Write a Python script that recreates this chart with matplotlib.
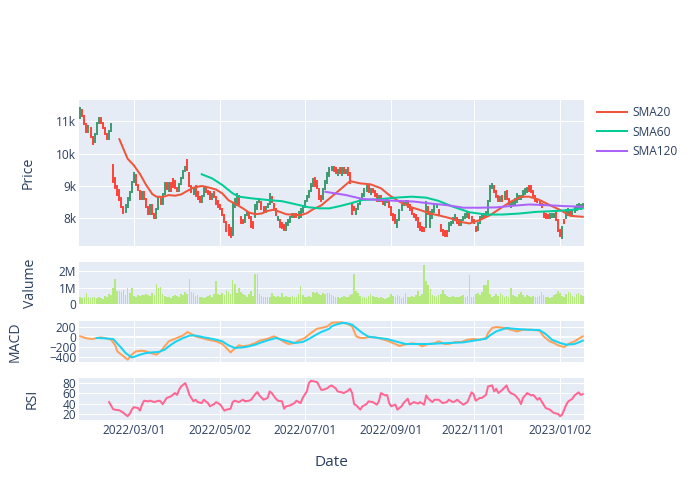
import matplotlib
matplotlib.use("Agg")
import numpy as np
import matplotlib.pyplot as plt
from matplotlib.lines import Line2D

plt.rcParams['font.family'] = ['Open Sans', 'DejaVu Sans']

# daily open / close (one row per trading day)
open_px = [
    11100, 11350, 11150, 10900, 10650, 10800, 10500, 10350, 10600, 10950,
    11100, 10950, 10800, 10600, 10450, 10700, 9650, 9240, 9000, 8870,
    8620, 8360, 8200, 8360, 8570, 8820, 9130, 9340, 9030, 8850,
    8600, 8800, 8600, 8350, 8150, 8400, 8150, 8000, 8300, 8600,
    8450, 8750, 9100, 8850, 9100, 9200, 9150, 8950, 8850, 9050,
    9250, 9450, 9800, 9400, 9000, 8750, 9000, 8800, 8650, 8500,
    8700, 8950, 8850, 8800, 8600, 8800, 8650, 8550, 8400, 8300,
    8100, 7900, 7800, 7700, 7500, 8350, 8400, 8700, 8050, 7950,
    7900, 8100, 8150, 8050, 7900, 8050, 8300, 8500, 8500, 8350,
    8200, 8350, 8450, 8650, 8450, 8300, 7950, 7950, 7850, 7800,
    7650, 7800, 7900, 8050, 8150, 8150, 8000, 8050, 8200, 8350,
    8550, 8650, 8850, 9000, 9250, 9150, 8900, 8700, 8600, 8900,
    9100, 9300, 9500, 9600, 9550, 9350, 9550, 9350, 9550, 9400,
    9550, 9400, 8450, 8350, 8150, 8300, 8450, 8600, 8700, 8850,
    9000, 8750, 8900, 8850, 8750, 8550, 8700, 8550, 8400, 8500,
    8550, 8350, 8150, 8100, 7750, 7950, 8250, 8400, 8450, 8550,
    8400, 8300, 8150, 8100, 8000, 7850, 7750, 7700, 7750, 8350,
    7750, 8000, 8200, 8350, 8250, 7800, 7650, 7600, 7600, 7600,
    7800, 7850, 7950, 8000, 7950, 7800, 7950, 8000, 8050, 8150,
    8050, 7950, 7750, 7650, 7850, 8000, 8150, 8050, 8150, 8550,
    8950, 9000, 8850, 8700, 8550, 8700, 8600, 8850, 8600, 8350,
    8400, 8450, 8500, 8600, 8600, 8650, 8750, 8800, 9000, 9000,
    8850, 8700, 8600, 8500, 8450, 8200, 8150, 8100, 8000, 8050,
    8050, 8200, 7950, 7650, 7400, 7950, 8000, 8100, 8250, 8150,
    8200, 8250, 8350, 8300, 8350,
]
close_px = [
    11400, 11150, 10900, 10650, 10850, 10500, 10300, 10600, 10950, 11100,
    10950, 10800, 10600, 10450, 10700, 10900, 9130, 8930, 8720, 8570,
    8360, 8180, 8410, 8620, 8820, 9130, 9390, 9030, 8880, 8600,
    8800, 8600, 8350, 8150, 8400, 8150, 8000, 8300, 8650, 8450,
    8750, 9100, 8900, 9100, 8850, 8980, 8950, 8850, 9050, 9250,
    9450, 9600, 9500, 9000, 8800, 8950, 8700, 8600, 8500, 8700,
    8950, 8800, 8750, 8600, 8750, 8650, 8450, 8350, 8300, 8100,
    7900, 7600, 7500, 7420, 8450, 8600, 8750, 8450, 7850, 7850,
    8100, 8200, 8000, 7750, 7700, 8400, 8500, 8600, 8300, 8200,
    8350, 8450, 8750, 8500, 8300, 8100, 8050, 7750, 7700, 7650,
    7850, 7950, 8050, 8150, 8050, 8050, 8200, 8300, 8350, 8550,
    8700, 8850, 9050, 9200, 9000, 8950, 8600, 8550, 8900, 9150,
    9400, 9550, 9600, 9450, 9400, 9500, 9400, 9550, 9400, 9500,
    9350, 9100, 8150, 8250, 8300, 8450, 8600, 8750, 8900, 9000,
    8800, 8900, 8800, 8700, 8550, 8700, 8550, 8450, 8550, 8600,
    8350, 8100, 7950, 7850, 7950, 8250, 8400, 8500, 8550, 8350,
    8250, 8150, 8050, 7950, 7750, 7650, 7600, 7600, 8500, 8150,
    8200, 8250, 8400, 8400, 8100, 7600, 7500, 7450, 7450, 7850,
    7900, 8000, 8100, 7850, 7800, 7950, 8050, 8150, 8200, 8000,
    7900, 7850, 7600, 7850, 8050, 8150, 8050, 8200, 8550, 9000,
    9050, 8800, 8650, 8550, 8650, 8550, 8800, 8600, 8450, 8500,
    8500, 8600, 8750, 8700, 8700, 8850, 8900, 8950, 8850, 8800,
    8700, 8550, 8500, 8400, 8350, 8050, 8000, 8000, 8150, 8150,
    8150, 7950, 7600, 7450, 7750, 7850, 8250, 8300, 8100, 8250,
    8350, 8400, 8450, 8400, 8450,
]
# volume in millions of shares
volume_m = [
    0.45, 0.35, 0.40, 0.65, 0.42, 0.38, 0.45, 0.40, 0.35, 0.45,
    0.38, 0.30, 0.50, 0.40, 0.60, 0.55, 0.97, 1.50, 0.78, 0.80,
    0.75, 0.85, 0.55, 0.97, 0.70, 0.95, 0.50, 0.45, 0.55, 0.50,
    0.55, 0.55, 0.60, 0.55, 0.50, 0.65, 0.55, 1.20, 0.97, 1.05,
    0.60, 0.50, 0.45, 0.40, 0.35, 0.50, 0.55, 0.50, 0.45, 0.60,
    0.55, 0.76, 0.60, 1.52, 0.75, 0.65, 0.50, 0.55, 0.45, 0.40,
    0.35, 0.45, 0.50, 0.55, 0.45, 0.60, 1.42, 0.60, 0.55, 0.70,
    0.55, 0.86, 0.75, 0.60, 1.48, 1.20, 0.70, 0.95, 0.75, 0.62,
    0.55, 0.45, 0.60, 0.80, 0.50, 1.83, 1.83, 0.60, 0.50, 0.45,
    0.40, 0.45, 0.40, 0.66, 0.50, 0.45, 0.50, 0.45, 0.66, 0.45,
    0.50, 0.40, 0.45, 0.50, 0.40, 0.45, 0.60, 1.13, 0.55, 0.40,
    0.40, 0.50, 0.45, 0.72, 0.70, 0.76, 0.60, 0.55, 0.66, 0.60,
    0.68, 0.65, 0.55, 0.50, 0.40, 0.45, 0.35, 0.40, 0.50, 0.45,
    0.40, 0.55, 0.60, 1.83, 0.82, 0.70, 0.50, 0.45, 0.40, 0.35,
    0.50, 0.60, 0.50, 0.40, 0.45, 0.35, 0.40, 0.35, 0.30, 0.35,
    0.45, 0.60, 0.50, 0.45, 0.55, 0.50, 0.35, 0.40, 0.65, 0.45,
    0.40, 0.50, 0.45, 0.55, 0.80, 0.50, 0.60, 2.41, 1.38, 1.17,
    0.90, 0.55, 0.50, 0.45, 0.55, 0.60, 0.86, 0.60, 0.50, 0.45,
    0.40, 0.50, 0.45, 0.40, 0.45, 0.50, 0.55, 0.40, 0.50, 1.79,
    0.45, 0.40, 0.60, 0.70, 0.55, 0.72, 1.17, 1.17, 1.48, 0.60,
    0.45, 0.50, 0.60, 0.50, 0.70, 0.55, 0.45, 0.50, 0.40, 0.97,
    0.55, 0.50, 0.40, 0.60, 0.75, 0.55, 0.45, 0.55, 0.50, 0.45,
    0.50, 0.40, 0.45, 0.50, 0.76, 0.55, 0.45, 0.40, 0.35, 0.45,
    0.55, 0.60, 0.80, 0.70, 0.50, 0.45, 0.60, 0.75, 0.70, 0.50,
    0.45, 0.60, 0.68, 0.55, 0.50,
]

# indicator lines: (trading day, value)
sma20 = [
    (19, 10440), (23, 9840), (26, 9640), (29, 9370), (32, 9030), (35, 8750),
    (37, 8670), (40, 8660), (43, 8720), (46, 8700), (49, 8740), (52, 8850),
    (55, 8950), (59, 9000), (62, 8960), (66, 8890), (69, 8770), (72, 8560),
    (75, 8460), (79, 8310), (82, 8180), (85, 8130), (88, 8150), (91, 8230),
    (94, 8270), (97, 8200), (100, 8130), (104, 8110), (107, 8100), (110, 8160),
    (113, 8280), (117, 8400), (120, 8560), (123, 8720), (126, 8880), (131, 9150),
    (136, 9080), (141, 9050), (146, 8930), (150, 8720), (155, 8515), (160, 8360),
    (165, 8260), (170, 8150), (175, 8080), (180, 8000), (184, 7900), (189, 7845),
    (194, 7950), (199, 8100), (204, 8310), (209, 8515), (214, 8670), (218, 8670),
    (223, 8570), (228, 8410), (233, 8260), (238, 8080), (244, 8050),
]
sma60 = [
    (59, 9360), (64, 9235), (69, 9030), (74, 8774), (77, 8671), (83, 8620),
    (91, 8568), (98, 8530), (104, 8445), (111, 8343), (116, 8312), (121, 8310),
    (126, 8380), (131, 8460), (137, 8570), (145, 8590), (153, 8640), (161, 8670),
    (168, 8640), (174, 8540), (181, 8360), (189, 8190), (197, 8120), (205, 8120),
    (213, 8150), (221, 8200), (231, 8230), (238, 8260), (244, 8310),
]
sma120 = [
    (119, 8820), (121, 8800), (129, 8720), (137, 8600), (145, 8570), (154, 8540),
    (162, 8520), (170, 8460), (178, 8410), (186, 8330), (194, 8330), (202, 8340),
    (210, 8390), (218, 8430), (226, 8410), (235, 8380), (244, 8360),
]
macd = [
    (0, 15), (3, -27), (6, -40), (8, -20), (10, -7), (12, -20), (15, -54),
    (17, -168), (18, -290), (21, -390), (23, -458), (25, -357), (27, -290),
    (30, -276), (32, -290), (34, -323), (37, -357), (39, -290), (41, -188),
    (43, -87), (46, -34), (50, 34), (52, 101), (54, 61), (56, 13), (59, -20),
    (62, -54), (66, -87), (69, -141), (71, -222), (73, -310), (75, -235),
    (77, -168), (79, -188), (82, -168), (85, -121), (87, -74), (91, -34),
    (94, 13), (96, -20), (99, -101), (101, -141), (104, -121), (106, -74),
    (109, -20), (112, 81), (115, 168), (117, 182), (120, 215), (122, 283),
    (124, 296), (127, 296), (130, 262), (132, 215), (134, 13), (136, -20),
    (138, -20), (140, 0), (143, -7), (146, -34), (149, -74), (153, -141),
    (155, -182), (157, -155), (161, -128), (164, -141), (166, -188), (169, -141),
    (172, -128), (174, -87), (177, -141), (179, -141), (182, -100), (185, -101),
    (188, -54), (191, -40), (194, -54), (197, -20), (198, 81), (200, 182),
    (202, 202), (206, 182), (209, 148), (212, 114), (215, 148), (219, 148),
    (223, 128), (225, 13), (228, -87), (230, -121), (232, -168), (235, -202),
    (237, -141), (240, -87), (242, -34), (244, 13),
]
signal = [
    (8, -20), (12, -27), (16, -40), (17, -87), (20, -222), (22, -323),
    (25, -410), (26, -404), (29, -357), (32, -323), (35, -310), (38, -303),
    (41, -256), (43, -188), (46, -101), (50, -20), (53, 27), (55, 34),
    (58, 13), (60, -7), (62, -20), (66, -54), (69, -87), (72, -168),
    (75, -222), (79, -209), (82, -188), (85, -155), (88, -108), (91, -67),
    (95, -20), (98, -54), (101, -87), (104, -121), (108, -101), (111, -40),
    (114, 34), (117, 101), (121, 168), (122, 215), (124, 249), (127, 283),
    (129, 283), (132, 249), (134, 182), (137, 81), (140, 7), (145, -20),
    (149, -40), (153, -87), (158, -141), (162, -141), (169, -141), (175, -128),
    (183, -114), (186, -108), (191, -74), (197, -34), (199, 34), (202, 114),
    (207, 182), (212, 162), (217, 148), (223, 141), (226, 61), (229, -54),
    (233, -121), (236, -155), (240, -141), (244, -74),
]
rsi = [
    (14, 43), (16, 29), (17, 28), (19, 27), (21, 22), (22, 18.5), (23, 15.3),
    (24, 20), (25, 28), (26, 33), (28, 31.5), (29, 26.3), (30, 38), (31, 45.7),
    (33, 44.4), (34, 45.7), (36, 43), (38, 45.7), (39, 44.4), (40, 39), (42, 51),
    (44, 54), (46, 60.6), (47, 57), (48, 67), (49, 73.5), (51, 80), (52, 70),
    (53, 57), (55, 44.4), (56, 47.6), (57, 43), (59, 41), (60, 47.6), (62, 41),
    (63, 34.7), (65, 39), (66, 43), (68, 38), (70, 26.3), (71, 28.2), (73, 30),
    (74, 43), (75, 45.7), (77, 43), (79, 47.6), (80, 44.4), (82, 45.7),
    (83, 47.6), (85, 58.6), (86, 62.5), (87, 56), (89, 47.6), (91, 51),
    (92, 63.8), (93, 60.6), (95, 49.6), (96, 45.7), (98, 44.4), (99, 30),
    (100, 34.7), (102, 36.6), (104, 41), (105, 45.7), (107, 41), (108, 51),
    (110, 63.8), (111, 80), (112, 84.5), (114, 83), (115, 82), (117, 67),
    (118, 67), (120, 70), (121, 73.5), (122, 75.5), (124, 70), (125, 63.8),
    (127, 62), (128, 60.6), (130, 65), (131, 69), (132, 60.6), (133, 39),
    (134, 36.6), (136, 28.2), (137, 34.7), (139, 39), (140, 44.4), (142, 43),
    (144, 38), (145, 44.4), (146, 60.6), (148, 56), (149, 57), (150, 41),
    (151, 34.7), (153, 38), (154, 28.2), (156, 34.7), (157, 41), (159, 49.6),
    (160, 38), (162, 43), (164, 40), (165, 43), (167, 38), (168, 56),
    (169, 49.6), (171, 43), (172, 47.6), (174, 47.6), (176, 41), (178, 43),
    (179, 47.6), (181, 43), (182, 44.4), (183, 47.6), (185, 41), (186, 38),
    (188, 43), (190, 62), (191, 58.6), (192, 45.7), (194, 51), (195, 51),
    (197, 57), (198, 73.5), (200, 75.5), (201, 63.8), (202, 69), (203, 60.6),
    (205, 67), (207, 75.5), (208, 65), (209, 60.6), (211, 57), (213, 47.6),
    (214, 39), (215, 51), (217, 60.6), (219, 56), (220, 57), (222, 47.6),
    (223, 51), (225, 38), (226, 31.5), (228, 28.2), (230, 21.7), (232, 19.8),
    (233, 15.3), (234, 18.5), (236, 38), (237, 44.4), (239, 49.6), (240, 56),
    (242, 62), (243, 57), (244, 58.6),
]

tick_idx = [26, 68, 109, 151, 191, 233]
tick_labels = ['2022/03/01', '2022/05/02', '2022/07/01',
               '2022/09/01', '2022/11/01', '2023/01/02']

BG = '#E5ECF6'
FG = '#2a3f5f'
TICK_FS = 8.6
TITLE_FS = 10.1


def style_ax(ax, xgrid=True):
    ax.set_facecolor(BG)
    for s in ax.spines.values():
        s.set_visible(False)
    ax.set_axisbelow(True)
    ax.grid(True, axis='y', color='white', linewidth=0.75)
    if xgrid:
        ax.grid(True, axis='x', color='white', linewidth=0.75)
    ax.set_xlim(-0.6, len(close_px) - 0.4)
    ax.set_xticks(tick_idx)
    ax.set_xticklabels([])
    ax.tick_params(length=0, labelsize=TICK_FS, labelcolor=FG, pad=2)


def draw_line(ax, pts, color, label=None):
    x, y = zip(*pts)
    ax.plot(x, y, color=color, linewidth=1.45, label=label, solid_joinstyle='round')


fig = plt.figure(figsize=(7, 5), dpi=100)
L, W = 79 / 700, 505 / 700
ax_p = fig.add_axes([L, 1 - 246 / 500, W, 146 / 500])
ax_v = fig.add_axes([L, 1 - 304 / 500, W, 42 / 500])
ax_m = fig.add_axes([L, 1 - 362 / 500, W, 41.3 / 500])
ax_r = fig.add_axes([L, 1 - 420 / 500, W, 42 / 500])

# price + moving averages
style_ax(ax_p)
idx = np.arange(len(close_px))
o = np.array(open_px)
c = np.array(close_px)
cols = np.where(c >= o, '#3D9970', '#FF4136')
ax_p.vlines(idx, np.minimum(o, c), np.maximum(o, c), colors=cols,
            linewidth=1.4, capstyle='projecting')
draw_line(ax_p, sma20, '#EF553B', 'SMA20')
draw_line(ax_p, sma60, '#00CC96', 'SMA60')
draw_line(ax_p, sma120, '#AB63FA', 'SMA120')
ax_p.set_ylim(7150, 11650)
ax_p.set_yticks([8000, 9000, 10000, 11000], ['8k', '9k', '10k', '11k'])

# volume
style_ax(ax_v, xgrid=False)
ax_v.bar(idx, np.array(volume_m) * 1e6, width=0.82, color='#B6E880', linewidth=0)
ax_v.set_ylim(0, 2.57e6)
ax_v.set_yticks([0, 1e6, 2e6], ['0', '1M', '2M'])

# MACD
style_ax(ax_m)
ax_m.axhline(0, color='white', linewidth=1.5, zorder=0.5)
draw_line(ax_m, macd, '#FFA15A')
draw_line(ax_m, signal, '#19D3F3')
ax_m.set_ylim(-505, 330)
ax_m.set_yticks([-400, -200, 0, 200], ['\u2212400', '\u2212200', '0', '200'])

# RSI
style_ax(ax_r)
draw_line(ax_r, rsi, '#FF6692')
ax_r.set_ylim(8, 90)
ax_r.set_yticks([20, 40, 60, 80])
ax_r.set_xticklabels(tick_labels)
ax_r.tick_params(axis='x', pad=3)

for ax, name, xpos in [(ax_p, 'Price', -0.085), (ax_v, 'Valume', -0.081),
                       (ax_m, 'MACD', -0.111), (ax_r, 'RSI', -0.077)]:
    ax.set_ylabel(name, fontsize=TITLE_FS, color=FG)
    ax.yaxis.set_label_coords(xpos, 0.5)

fig.text(331.5 / 700, 1 - 463 / 500, 'Date', ha='center', va='center',
         fontsize=TITLE_FS + 1, color=FG)

handles = [Line2D([], [], color=col, linewidth=1.45)
           for col in ['#EF553B', '#00CC96', '#AB63FA']]
fig.legend(handles, ['SMA20', 'SMA60', 'SMA120'], loc='upper left',
           bbox_to_anchor=(597 / 700, 1 - 106 / 500), frameon=False,
           fontsize=TICK_FS, labelcolor=FG, handlelength=2.5,
           handletextpad=0.45, labelspacing=0.55, borderpad=0,
           borderaxespad=0)

fig.savefig('out.png', dpi=100)
